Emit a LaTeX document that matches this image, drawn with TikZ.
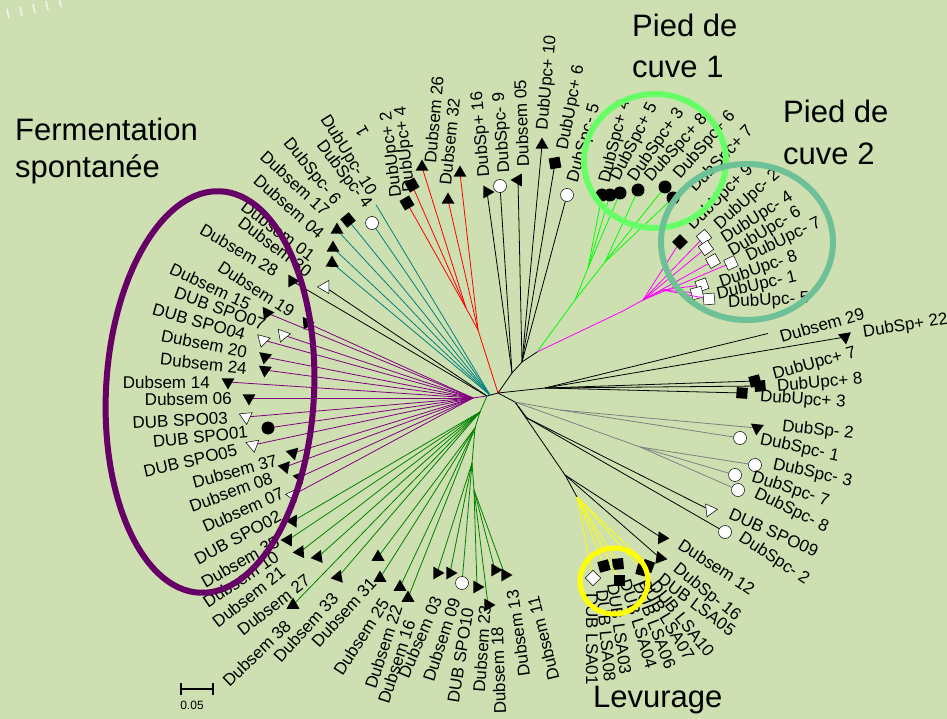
\documentclass[tikz,border=0pt]{standalone}
\usepackage{fontspec}
\setmainfont{Liberation Sans}
\usetikzlibrary{shapes.geometric}

\definecolor{bgleaf}{RGB}{206,224,177}
\definecolor{fermpurple}{RGB}{102,0,102}
\definecolor{treepurple}{RGB}{128,0,128}
\definecolor{treemagenta}{RGB}{255,0,255}
\definecolor{cuveone}{RGB}{102,255,102}
\definecolor{cuvetwo}{RGB}{110,192,150}
\definecolor{lsayellow}{RGB}{255,255,0}

\tikzset{
  mtri/.style={regular polygon, regular polygon sides=3, shape border rotate=180, fill=black, inner sep=0pt, minimum size=15pt},
  mwtri/.style={mtri, fill=white, draw=black, line width=0.5pt},
  mdot/.style={circle, fill=black, inner sep=0pt, minimum size=13pt},
  mwdot/.style={mdot, fill=white, draw=black, line width=0.5pt},
  msq/.style={rectangle, fill=black, inner sep=0pt, minimum size=11pt},
  mwsq/.style={msq, fill=white, draw=black, line width=0.5pt},
  br/.style={line width=0.8pt, shorten >=2pt},
  lab/.style={inner sep=0pt, font=\fontsize{17}{17}\selectfont},
  title/.style={inner sep=0pt, anchor=north west, align=left},
  ring/.style={line width=6pt},
}

\begin{document}
\begin{tikzpicture}[x=1pt,y=-1pt]

\fill[bgleaf] (0,0) rectangle (947,719);
\useasboundingbox (0,0) rectangle (947,719);

\foreach \x/\y in {9/18, 22/16, 35/13, 48/10, 61/7}
  \draw[white, line width=1.6pt, opacity=0.7] (\x,\y) -- ++(-2,-9);

\coordinate (R) at (487,396);
\coordinate (P) at (473,398);
\coordinate (T) at (490,395);
\coordinate (H) at (498,393);
\coordinate (Ra) at (478,330);
\coordinate (Rb) at (466,308);
\coordinate (B1) at (512,373);
\coordinate (B2) at (522,362);
\coordinate (G0) at (537,352);
\coordinate (G1) at (575,300);
\coordinate (G2) at (588,268);
\coordinate (G3) at (605,262);
\coordinate (M1) at (623,311);
\coordinate (M2) at (643,300);
\coordinate (M3) at (663,290);
\coordinate (RB) at (545,388);
\coordinate (K1) at (515,402);
\coordinate (Ga) at (560,410);
\coordinate (Gb) at (640,447);
\coordinate (K2) at (527,418);
\coordinate (K3) at (565,475);
\coordinate (Y0) at (577,497);
\coordinate (D1) at (480,412);
\coordinate (D2) at (475,428);
\coordinate (D3) at (472,463);
\coordinate (D4) at (474,490);
\coordinate (tu10) at (375,203);
\coordinate (d29) at (770,333);

\draw[line width=0.8pt] (R) -- (H) -- (B1) -- (B2) -- (G0);
\draw[line width=0.8pt] (H) -- (RB);
\draw[line width=0.8pt] (H) -- (K1) -- (K2);
\draw[line width=0.8pt] (K1) -- (K3) -- (Y0);
\draw[line width=0.8pt, treepurple] (R) -- (P);
\draw[line width=0.8pt, red] (H) -- (Ra) -- (Rb);
\draw[line width=0.8pt, green] (G0) -- (G1) -- (G2);
\draw[line width=0.8pt, green] (G1) -- (G3);
\draw[line width=0.8pt, treemagenta] (G0) -- (M1) -- (M2) -- (M3);
\draw[line width=0.8pt, gray] (K1) -- (Ga);
\draw[line width=0.8pt, gray] (K1) -- (Gb);
\draw[line width=0.8pt, green!50!black] (R) -- (D1) -- (D2) -- (D3) -- (D4);
\draw[br, teal] (T) -- (tu10);
\draw[br] (RB) -- (d29);

\foreach \x/\y/\s/\r [count=\i] in {307/323/mtri/-25, 267/313/mtri/-25, 283/335/mwtri/-20,
    263/340/mwtri/-15, 265/357/mtri/-10, 265/370/mtri/-5, 228/382/mtri/0, 249/398/mtri/0,
    246/417/mwtri/5, 268/428/mdot/0, 253/445/mwtri/10, 293/453/mtri/15, 285/467/mtri/20,
    300/477/mtri/20, 293/495/mwtri/25}
  {\draw[br, treepurple] (P) -- (\x,\y); \node[\s, rotate=\r] (pu\i) at (\x,\y) {};}

\foreach \x/\y/\s/\r [count=\i] in {292/281/mtri/-30, 325/287/mwtri/-90}
  {\draw[br] (R) -- (\x,\y); \node[\s, rotate=\r] (bk\i) at (\x,\y) {};}

\foreach \x/\y/\s/\r [count=\i] in {332/263/mtri/-60, 333/248/mtri/-60, 337/230/mtri/-60,
    348/220/msq/-50, 372/223/mwdot/0}
  {\draw[br, teal] (T) -- (\x,\y); \node[\s, rotate=\r] (te\i) at (\x,\y) {};}

\foreach \x/\y/\s/\r [count=\i] in {448/200/mtri/180, 460/173/mtri/180}
  {\draw[br, red] (Ra) -- (\x,\y); \node[\s, rotate=\r] (ra\i) at (\x,\y) {};}
\foreach \x/\y/\s/\r [count=\i] in {407/203/msq/30, 412/185/msq/30, 422/167/mtri/180}
  {\draw[br, red] (Rb) -- (\x,\y); \node[\s, rotate=\r] (rb\i) at (\x,\y) {};}

\foreach \x/\y/\s/\r [count=\i] in {487/192/mtri/90, 500/186/mwdot/0}
  {\draw[br] (B1) -- (\x,\y); \node[\s, rotate=\r] (ba\i) at (\x,\y) {};}
\foreach \x/\y/\s/\r [count=\i] in {518/180/mtri/-90, 542/145/mtri/180, 555/163/msq/10, 567/195/mwdot/0}
  {\draw[br] (B2) -- (\x,\y); \node[\s, rotate=\r] (bb\i) at (\x,\y) {};}

\foreach \x/\y/\s/\r [count=\i] in {602/195/mdot/0, 610/195/mdot/0, 620/193/mdot/0}
  {\draw[br, green] (G2) -- (\x,\y); \node[\s, rotate=\r] (ga\i) at (\x,\y) {};}
\foreach \x/\y/\s/\r [count=\i] in {638/190/mdot/0, 665/187/mdot/0, 673/198/mdot/0}
  {\draw[br, green] (G3) -- (\x,\y); \node[\s, rotate=\r] (gb\i) at (\x,\y) {};}

\foreach \x/\y/\s/\r [count=\i] in {680/242/msq/45, 704/237/mwsq/40, 706/248/mwsq/35,
    713/261/mwsq/30, 731/263/mwsq/25}
  {\draw[br, treemagenta] (M2) -- (\x,\y); \node[\s, rotate=\r] (ma\i) at (\x,\y) {};}
\foreach \x/\y/\s/\r [count=\i] in {702/285/mwsq/20, 697/293/mwsq/15, 709/299/mwsq/5}
  {\draw[br, treemagenta] (M3) -- (\x,\y); \node[\s, rotate=\r] (mb\i) at (\x,\y) {};}

\foreach \x/\y/\s/\r [count=\i] in {845/337/mtri/9, 755/381/msq/15, 760/386/msq/5, 742/393/msq/-4}
  {\draw[br] (RB) -- (\x,\y); \node[\s, rotate=\r] (rt\i) at (\x,\y) {};}

\foreach \x/\y/\s/\r [count=\i] in {757/428/mtri/-6, 740/438/mwdot/0}
  {\draw[br, gray] (Ga) -- (\x,\y); \node[\s, rotate=\r] (gy\i) at (\x,\y) {};}
\foreach \x/\y/\s/\r [count=\i] in {755/465/mwdot/0, 735/475/mwdot/0, 738/490/mwdot/0}
  {\draw[br, gray] (Gb) -- (\x,\y); \node[\s, rotate=\r] (gz\i) at (\x,\y) {};}

\foreach \x/\y/\s/\r [count=\i] in {710/510/mwtri/-24, 725/532/mwdot/0}
  {\draw[br] (K2) -- (\x,\y); \node[\s, rotate=\r] (ka\i) at (\x,\y) {};}
\foreach \x/\y/\s/\r [count=\i] in {662/538/mtri/-33, 660/558/mtri/-39}
  {\draw[br] (K3) -- (\x,\y); \node[\s, rotate=\r] (kb\i) at (\x,\y) {};}

\foreach \x/\y/\s/\r [count=\i] in {593/578/mwsq/45, 604/566/msq/15, 618/564/msq/5,
    619/580/msq/0, 642/570/msq/-15, 648/566/msq/-20}
  {\draw[br, lsayellow] (Y0) -- (\x,\y); \node[\s, rotate=\r] (ye\i) at (\x,\y) {};}

\foreach \x/\y/\s/\r [count=\i] in {293/521/mtri/28, 288/540/mtri/30, 300/552/mtri/34,
    318/557/mtri/38, 338/577/mtri/40, 293/605/mtri/180}
  {\draw[br, green!50!black] (D1) -- (\x,\y); \node[\s, rotate=\r] (da\i) at (\x,\y) {};}
\foreach \x/\y/\s/\r [count=\i] in {378/557/mtri/180, 380/578/mtri/180, 400/587/mtri/180, 408/598/mtri/180}
  {\draw[br, green!50!black] (D2) -- (\x,\y); \node[\s, rotate=\r] (db\i) at (\x,\y) {};}
\foreach \x/\y/\s/\r [count=\i] in {437/573/mtri/90, 450/573/mtri/90, 462/583/mwdot/0}
  {\draw[br, green!50!black] (D3) -- (\x,\y); \node[\s, rotate=\r] (dc\i) at (\x,\y) {};}
\foreach \x/\y/\s/\r [count=\i] in {477/587/mtri/90, 488/605/mtri/90, 495/570/mtri/90, 505/575/mtri/90}
  {\draw[br, green!50!black] (D4) -- (\x,\y); \node[\s, rotate=\r] (dd\i) at (\x,\y) {};}

\foreach \x/\y/\r/\a/\t [count=\i] in {
    277/272/-30/east/Dubsem 28, 310/273/-37/east/Dubsem 30, 293/313/-33/east/Dubsem 19,
    250/305/-25/east/Dubsem 15, 265/325/-20/east/DUB SPO07, 245/335/-16/east/DUB SPO04,
    247/352/-11/east/Dubsem 20, 247/368/-6/east/Dubsem 24, 210/382/0/east/Dubsem 14,
    232/398/1/east/Dubsem 06, 228/418/3/east/DUB SPO03, 248/432/6/east/DUB SPO01,
    237/450/13/east/DUB SPO05, 277/460/15/east/Dubsem 37, 272/477/20/east/Dubsem 08,
    283/492/24/east/Dubsem 07,
    372/194/-58/east/DubUpc- 10, 368/207/-53/east/DubSpc- 4, 337/203/-51/east/DubSpc- 6,
    327/213/-43/east/Dubsem 17, 322/235/-41/east/Dubsem 04, 313/257/-37/east/Dubsem 01,
    280/515/28/east/DUB SPO02, 278/540/30/east/Dubsem 35, 277/555/34/east/Dubsem 10,
    283/570/38/east/Dubsem 21, 308/578/38/east/Dubsem 27, 288/623/44/east/Dubsem 38,
    335/595/48/east/Dubsem 33, 373/580/48/east/Dubsem 31, 385/600/57/east/Dubsem 25,
    397/605/72/east/Dubsem 22, 410/620/72/east/Dubsem 16, 437/597/67/east/Dubsem 03,
    455/598/72/east/Dubsem 09, 468/608/81/east/DUB SPO10, 485/605/86/east/Dubsem 23,
    497/627/92/east/Dubsem 18, 512/590/98/east/Dubsem 13, 533/597/104/east/Dubsem 11,
    397/197/97/west/DubUpc+ 2, 410/192/96/west/DubUpc+ 4, 430/163/85/west/Dubsem 26,
    445/185/84/west/Dubsem 32, 485/177/95/west/DubSp+ 16, 505/173/94/west/DubSpc- 9,
    523/167/92/west/Dubsem 05, 543/130/85/west/DubUpc+ 10, 563/150/79/west/DubUpc+ 6,
    573/182/74/west/DubSpc- 5,
    605/183/76/west/DubSpc+ 4, 615/180/63/west/DubSpc+ 5, 632/180/55/west/DubSpc+ 3,
    648/180/48/west/DubSpc+ 8, 677/177/49/west/DubSpc+ 6, 692/190/46/west/DubSpc+ 7,
    690/228/45/west/DubUpc+ 9, 717/227/42/west/DubUpc- 2, 723/240/33/west/DubUpc- 4,
    730/253/31/west/DubUpc- 6, 747/258/26/west/DubUpc- 7, 720/283/19/west/DubUpc- 8,
    717/295/13/west/DubUpc- 1, 728/303/3/west/DubUpc- 5,
    780/337/16/west/Dubsem 29, 863/333/9/west/DubSp+ 22, 773/375/15/west/DubUpc+ 7,
    777/387/5/west/DubUpc+ 8, 760/397/-4/west/DubUpc+ 3, 782/427/-6/west/DubSp- 2,
    760/440/-12/west/DubSpc- 1, 773/465/-12/west/DubSpc- 3, 752/477/-18/west/DubSpc- 7,
    755/493/-26/west/DubSpc- 8, 730/513/-24/west/DUB SPO09, 740/537/-33/west/DubSpc- 2,
    680/543/-33/west/Dubsem 12, 675/567/-39/west/DubSp- 16, 660/577/-37/west/DUB LSA05,
    653/583/-51/west/DUB LSA10, 643/580/-59/west/DUB LSA07, 638/582/-69/west/DUB LSA06,
    625/580/-73/west/DUB LSA04, 613/583/-82/west/DUB LSA03, 602/590/-85/west/DUB LSA08,
    592/593/-90/west/DUB LSA01}
  \node[lab, rotate=\r, anchor=\a] (lb\i) at (\x,\y) {\t};
\node[lab, rotate=120] (one) at (362,131) {1};

\draw[fermpurple, ring, rotate around={-3:(210,392)}] (210,392) ellipse [x radius=104pt, y radius=201pt];
\draw[cuveone, ring] (655,161) ellipse [x radius=71pt, y radius=67pt];
\draw[cuvetwo, ring] (747,242) ellipse [x radius=86pt, y radius=78pt];
\draw[lsayellow, line width=5pt] (614,581) ellipse [x radius=34pt, y radius=33pt];

\node[title, font=\fontsize{31}{37}\selectfont] (ferm) at (15,118) {Fermentation\\spontanée};
\node[title, font=\fontsize{31}{41}\selectfont] (pied1) at (632,14) {Pied de\\cuve 1};
\node[title, font=\fontsize{31}{42}\selectfont] (pied2) at (783,100) {Pied de\\cuve 2};
\node[title, font=\fontsize{31}{37}\selectfont] (levu) at (593,686) {Levurage};

\coordinate (sbl) at (181,689);
\coordinate (sbr) at (213,689);
\draw[line width=2pt] (sbl) -- (sbr);
\draw[line width=2pt] (181,683) -- (181,695);
\draw[line width=2pt] (213,683) -- (213,695);
\node[font=\fontsize{12}{12}\selectfont, anchor=north, inner sep=0pt] (sbt) at (192,701) {0.05};

\end{tikzpicture}
\end{document}
